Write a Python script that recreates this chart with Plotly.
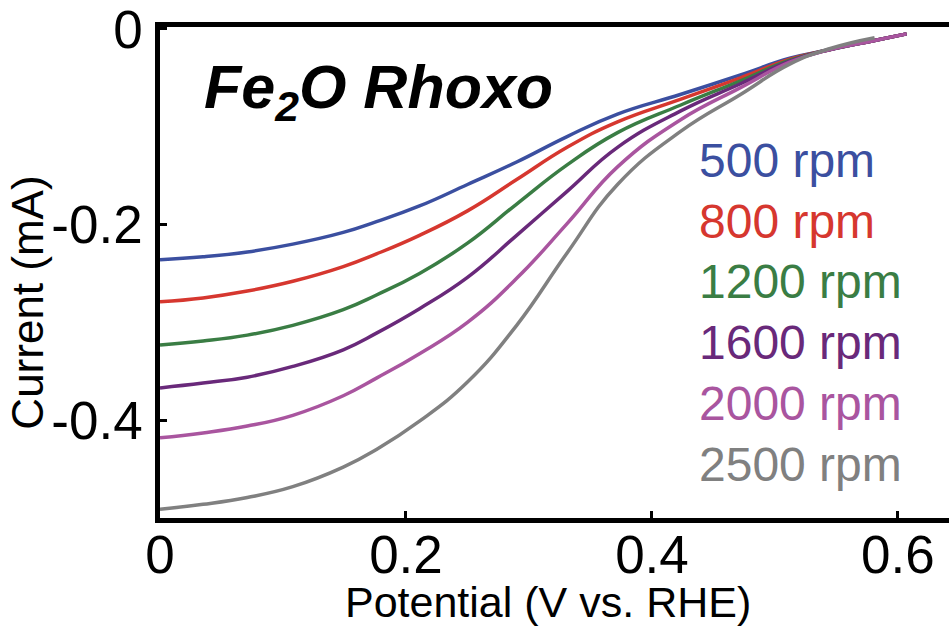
import plotly.graph_objects as go

# ---- data ----
potential = [0, 0.035, 0.071, 0.108, 0.149, 0.176, 0.211, 0.25, 0.29, 0.331,
             0.372, 0.423, 0.472, 0.512, 0.545, 0.58, 0.607]
potential_2500 = [0, 0.035, 0.071, 0.108, 0.149, 0.176, 0.211, 0.25, 0.29, 0.331,
                  0.372, 0.423, 0.472, 0.512, 0.545, 0.581]

i_500 = [-0.236, -0.233, -0.228, -0.220, -0.208, -0.197, -0.181, -0.159, -0.136, -0.110,
         -0.087, -0.067, -0.047, -0.030, -0.021, -0.012, -0.005]
i_800 = [-0.279, -0.275, -0.268, -0.258, -0.243, -0.230, -0.211, -0.186, -0.154, -0.121,
         -0.095, -0.072, -0.050, -0.031, -0.021, -0.012, -0.005]
i_1200 = [-0.323, -0.319, -0.313, -0.303, -0.287, -0.272, -0.250, -0.219, -0.179, -0.139,
          -0.106, -0.078, -0.053, -0.032, -0.021, -0.012, -0.005]
i_1600 = [-0.367, -0.362, -0.356, -0.345, -0.328, -0.311, -0.286, -0.254, -0.211, -0.166,
          -0.121, -0.084, -0.056, -0.033, -0.021, -0.012, -0.005]
i_2000 = [-0.418, -0.413, -0.406, -0.395, -0.375, -0.357, -0.332, -0.300, -0.255, -0.199,
          -0.141, -0.093, -0.060, -0.034, -0.021, -0.012, -0.005]
i_2500 = [-0.491, -0.486, -0.479, -0.468, -0.448, -0.430, -0.401, -0.361, -0.303, -0.229,
          -0.159, -0.105, -0.067, -0.036, -0.020, -0.009]

labels = ["500 rpm", "800 rpm", "1200 rpm", "1600 rpm", "2000 rpm", "2500 rpm"]
colors = ["#3b4fa0", "#d6372f", "#3a7d44", "#69297a", "#a9559f", "#808080"]

x_tickvals = [0, 0.2, 0.4, 0.6]
x_ticktext = ["0", "0.2", "0.4", "0.6"]
y_tickvals = [0, -0.2, -0.4]
y_ticktext = ["0", "-0.2", "-0.4"]

FONT = "Liberation Sans, Arial, sans-serif"

fig = go.Figure()
series = [(potential, i_500), (potential, i_800), (potential, i_1200),
          (potential, i_1600), (potential, i_2000), (potential_2500, i_2500)]
for (xs, ys), name, c in zip(series, labels, colors):
    fig.add_trace(go.Scatter(x=xs, y=ys, mode="lines", name=name,
                             line=dict(color=c, width=3.5, shape="spline", smoothing=1.3),
                             showlegend=False))

# legend as coloured text
L, T, B, R = 160, 21, 518, 949
W, H = 949, 630
def px2paper_x(px):
    return (px - L) / (R - L)
def px2paper_y(py):
    return (B - py) / (B - T)

for k, (name, c) in enumerate(zip(labels, colors)):
    fig.add_annotation(text=name, xref="paper", yref="paper",
                       x=px2paper_x(697), y=px2paper_y(156 + k * 61.5),
                       xanchor="left", yanchor="middle", showarrow=False,
                       font=dict(family=FONT, size=48, color=c))

fig.add_annotation(text="<b><i>Fe<sub>2</sub>O Rhoxo</i></b>", xref="paper", yref="paper",
                   x=px2paper_x(202), y=px2paper_y(86), xanchor="left", yanchor="middle",
                   showarrow=False, font=dict(family=FONT, size=61, color="black"))

fig.add_annotation(text="Potential (V vs. RHE)", xref="paper", yref="paper",
                   x=px2paper_x(548), y=px2paper_y(603), xanchor="center", yanchor="middle",
                   showarrow=False, font=dict(family=FONT, size=43, color="black"))
fig.add_annotation(text="Current (mA)", xref="paper", yref="paper", textangle=-90,
                   x=px2paper_x(28), y=px2paper_y(300), xanchor="center", yanchor="middle",
                   showarrow=False, font=dict(family=FONT, size=44, color="black"))

fig.update_layout(
    width=W, height=H,
    margin=dict(l=L, r=W - R, t=T, b=H - B, pad=0),
    plot_bgcolor="white", paper_bgcolor="white",
    xaxis=dict(range=[0, 0.6415], tickvals=x_tickvals, ticktext=x_ticktext,
               showgrid=False, zeroline=False, showline=True, linecolor="black",
               linewidth=4.5, mirror=True, ticks="inside", ticklen=7, tickwidth=3,
               tickcolor="black", ticklabelstandoff=-13, ticklabeloverflow="allow",
               tickfont=dict(family=FONT, size=53, color="black")),
    yaxis=dict(range=[-0.5, 0.002], tickvals=y_tickvals, ticktext=y_ticktext,
               showgrid=False, zeroline=False, showline=True, linecolor="black",
               linewidth=4.5, mirror=False, ticks="inside", ticklen=7, tickwidth=3,
               tickcolor="black", ticklabelstandoff=2, ticklabeloverflow="allow",
               tickfont=dict(family=FONT, size=53, color="black")),
)

fig.write_html("out.html")
